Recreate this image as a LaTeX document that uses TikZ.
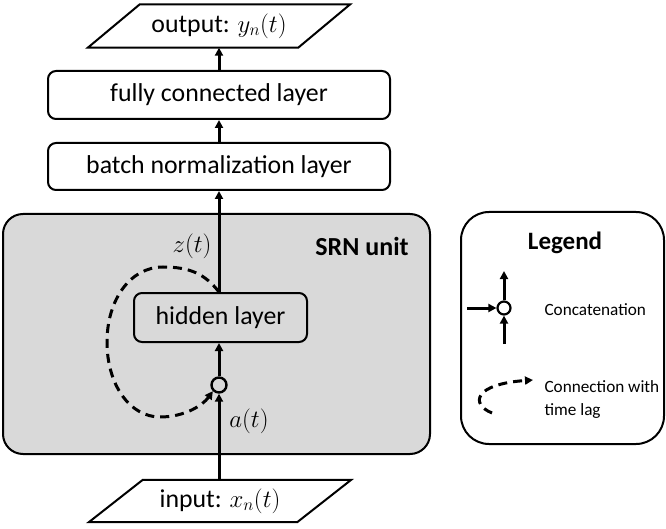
\documentclass[tikz,border=0pt]{standalone}
\usepackage{fontspec}
\setmainfont{Carlito}
\usetikzlibrary{arrows.meta}
\definecolor{unitgray}{HTML}{D9D9D9}
\tikzset{
  layerbox/.style={draw, line width=2pt, rounded corners=8pt, inner sep=0pt},
  iobox/.style={inner sep=0pt},
  flow/.style={line width=3pt, -{Triangle[length=8pt,width=8pt]}},
  lag/.style={line width=3pt, dash pattern=on 9pt off 6pt, -{Triangle[length=8pt,width=8pt]}},
  concat/.style={circle, draw, line width=2.4pt, minimum size=15pt, inner sep=0pt},
  maintext/.style={font=\fontsize{25.8}{30}\selectfont},
  smalltext/.style={font=\fontsize{17.2}{23}\selectfont, align=left},
  titletext/.style={font=\fontsize{26}{30}\selectfont\bfseries},
}
\begin{document}
\begin{tikzpicture}[x=1pt, y=-1pt]
\useasboundingbox (0,0) rectangle (666,529);

% SRN unit background
\draw[line width=2pt, rounded corners=20pt, fill=unitgray] (3,214) rectangle (430,454);
\node[titletext] (srn) at (362,246) {SRN unit};

% legend frame
\draw[line width=2pt, rounded corners=28pt] (461,212) rectangle (664,444);
\node[titletext, font=\fontsize{25}{30}\selectfont\bfseries] (legend) at (565,243) {Legend};

% output parallelogram
\node[iobox, minimum width=210pt, minimum height=43pt, maintext] (out) at (219,26) {output: $y_n(t)$};
\draw[line width=2pt] ([xshift=26pt]out.north west) -- ([xshift=26pt]out.north east)
  -- ([xshift=-26pt]out.south east) -- ([xshift=-26pt]out.south west) -- cycle;

% layer boxes
\node[layerbox, minimum width=342pt, minimum height=48pt, maintext] (fc) at (219,95) {fully connected layer};
\node[layerbox, minimum width=342pt, minimum height=47pt, maintext] (bn) at (219,166.5) {batch normalization layer};
\node[layerbox, minimum width=173pt, minimum height=49pt, maintext] (hid) at (220.5,317.5) {hidden layer};

% concatenation point
\node[concat] (cat) at (219,385) {};

% input parallelogram
\node[iobox, minimum width=208pt, minimum height=42pt, maintext] (in) at (220,501) {input: $x_n(t)$};
\draw[line width=2pt] ([xshift=27pt]in.north west) -- ([xshift=27pt]in.north east)
  -- ([xshift=-27pt]in.south east) -- ([xshift=-27pt]in.south west) -- cycle;

% main data path
\draw[flow] (in.north -| cat) -- (cat);
\draw[flow] (cat) -- (hid.south -| cat);
\draw[flow] (hid.north -| cat) -- (bn.south -| cat);
\draw[flow] (bn.north -| cat) -- (fc.south -| cat);
\draw[flow] (fc.north -| cat) -- (out.south -| cat);

\node[maintext] (zt) at (192,246) {$z(t)$};
\node[maintext] (at) at (249,421) {$a(t)$};

% recurrent connection with time lag
\coordinate (lagstart) at (hid.north -| cat);
\draw[lag] (lagstart) .. controls (205,274) and (190,267) .. (163,267)
  .. controls (130,267) and (107,300) .. (107,342)
  .. controls (107,385) and (130,417) .. (160,417)
  .. controls (185,417) and (203,405) .. (cat.south west);

% legend: concatenation symbol
\node[concat, line width=2.2pt, minimum size=13pt] (lcat) at (504,308) {};
\coordinate (lleft) at (467,308);
\coordinate (ltop) at (504,271);
\coordinate (lbot) at (504,344);
\draw[flow] (lleft) -- (lcat);
\draw[flow] (lbot) -- (lcat);
\draw[flow] (lcat) -- (ltop);
\node[smalltext, anchor=west] (lcattext) at (541,310) {Concatenation};

% legend: lagged connection
\coordinate (llagA) at (492,413);
\coordinate (llagB) at (533,380);
\draw[lag] (llagA) .. controls (470,404) and (474,384) .. (llagB);
\node[smalltext, anchor=west] (llagtext) at (541,400) {Connection with\\time lag};
\end{tikzpicture}
\end{document}
